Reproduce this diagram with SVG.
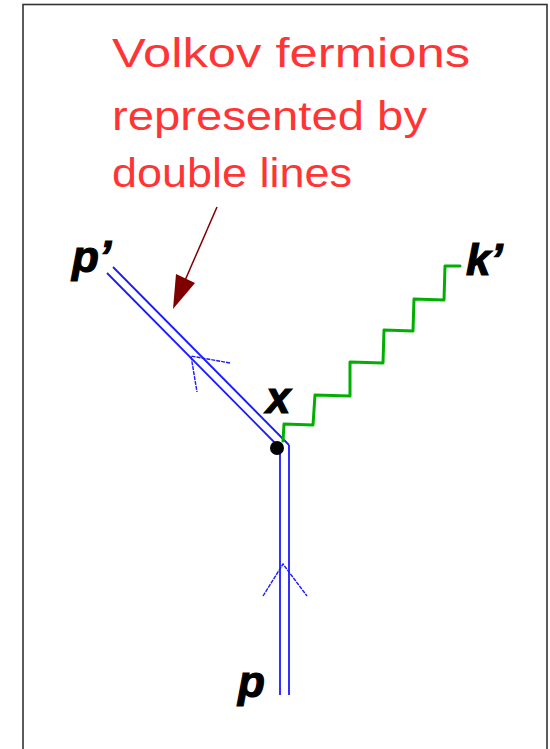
<svg xmlns="http://www.w3.org/2000/svg" width="550" height="749" viewBox="0 0 550 749">
<style>
.note{font-family:"Liberation Sans",Arial,sans-serif;font-size:40px;fill:#ff3535}
.lbl{font-family:"Liberation Sans",Arial,sans-serif;font-size:44px;font-weight:bold;font-style:italic;fill:#000;stroke:#000;stroke-width:1.2}
.fer{stroke:#1a1aff;stroke-width:1.8;fill:none}
.chev{stroke:#1a1aff;stroke-width:1.4;fill:none;stroke-dasharray:4 1}
.pho{stroke:#00b000;stroke-width:3;fill:none;stroke-linejoin:round;stroke-linecap:round}
</style>
<rect x="0" y="0" width="550" height="749" fill="#fff"/>
<rect id="frame" x="23" y="4.5" width="524" height="800" fill="none" stroke="#333" stroke-width="1.6"/>
<g id="note">
<text class="note" x="112" y="67" textLength="358" lengthAdjust="spacingAndGlyphs">Volkov fermions</text>
<text class="note" x="112" y="130" textLength="315" lengthAdjust="spacingAndGlyphs">represented by</text>
<text class="note" x="112" y="187" textLength="240" lengthAdjust="spacingAndGlyphs">double lines</text>
</g>
<g id="connectors">
<g id="fermion-out">
<line class="fer" x1="107" y1="273" x2="280" y2="448"/>
<line class="fer" x1="113" y1="267" x2="289" y2="445"/>
<polyline class="chev" points="230,363 191,356 197,392"/>
</g>
<g id="fermion-in">
<line class="fer" x1="280" y1="448" x2="280" y2="695"/>
<line class="fer" x1="289" y1="445" x2="289" y2="695"/>
<polyline class="chev" points="263,596 283,564 307,596"/>
</g>
<path id="photon" class="pho" d="M283,441 L284,424 L313,425 L315,395 L350,396 L350,362 L383,363 L384,330 L413,331 L414,299 L444,300 L445,266 L460,266"/>
<g id="pointer">
<line x1="217" y1="207" x2="183" y2="285" stroke="#800000" stroke-width="1.5"/>
<path d="M173,309 L176,274 L195,283 Z" fill="#800000"/>
</g>
</g>
<g id="vertex-x">
<circle cx="277" cy="448" r="7" fill="#000"/>
<text class="lbl" x="266" y="413">x</text>
</g>
<g id="node-p-prime"><text class="lbl" x="72" y="272">p’</text></g>
<g id="node-k-prime"><text class="lbl" x="466" y="275">k’</text></g>
<g id="node-p"><text class="lbl" x="238" y="697">p</text></g>
</svg>
